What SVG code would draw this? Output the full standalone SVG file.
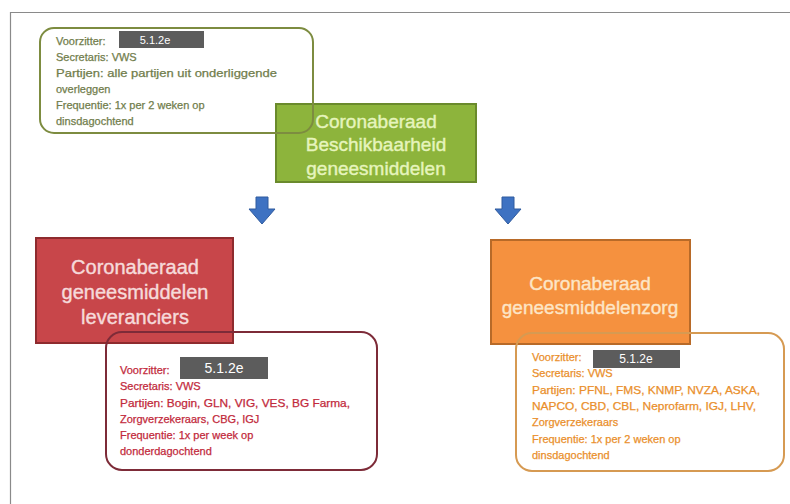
<svg xmlns="http://www.w3.org/2000/svg" width="790" height="504" viewBox="0 0 790 504">
<defs>
<style>
.t{font-family:"Liberation Sans",Arial,sans-serif;font-size:11px;stroke-width:0.25}
.title{font-family:"Liberation Sans",Arial,sans-serif;text-anchor:middle;stroke-width:0.4}
.red{fill:#5c5c5c}
.rt{font-family:"Liberation Sans",Arial,sans-serif;fill:#ffffff;text-anchor:middle}
</style>
<path id="arr" d="M-6,0 H6 V12 H13 L0,27 L-13,12 H-6 Z" fill="#3e72c2" stroke="#2f5a9e" stroke-width="1"/>
</defs>
<rect width="790" height="504" fill="#ffffff"/>
<path d="M10.5,504 V12.5 H790" fill="none" stroke="#8a8a8a" stroke-width="1.2"/>

<g id="green">
<rect x="276" y="104" width="200" height="78" fill="#8db43c" stroke="#6a8a2c" stroke-width="2"/>
<g class="title" fill="#e6f4bd" stroke="#e6f4bd" font-size="19">
<text x="376" y="128">Coronaberaad</text>
<text x="376" y="151">Beschikbaarheid</text>
<text x="376" y="175">geneesmiddelen</text>
</g>
</g>

<g id="top-info">
<rect x="40" y="28" width="273" height="105" rx="14" fill="none" stroke="#7d8c40" stroke-width="2"/>
<g class="t" fill="#717d4c" stroke="#717d4c">
<text x="56" y="45">Voorzitter:</text>
<text x="56" y="61">Secretaris: VWS</text>
<text x="56" y="77" textLength="221" lengthAdjust="spacingAndGlyphs">Partijen: alle partijen uit onderliggende</text>
<text x="56" y="93">overleggen</text>
<text x="56" y="109">Frequentie: 1x per 2 weken op</text>
<text x="56" y="125">dinsdagochtend</text>
</g>
<rect class="red" x="119" y="31" width="85" height="17"/>
<text class="rt" x="155" y="44" font-size="11">5.1.2e</text>
</g>

<g id="connectors">
<use href="#arr" x="262" y="197"/>
<use href="#arr" x="508" y="197"/>
</g>

<g id="red-title">
<rect x="36" y="238" width="197" height="105" fill="#c8464a" stroke="#8e2b2e" stroke-width="2"/>
<g class="title" fill="#f6dada" stroke="#f6dada" font-size="20">
<text x="135" y="274">Coronaberaad</text>
<text x="135" y="299">geneesmiddelen</text>
<text x="135" y="324">leveranciers</text>
</g>
</g>

<g id="red-info">
<rect x="106" y="332" width="271" height="138" rx="16" fill="none" stroke="#7d2b38" stroke-width="2"/>
<g class="t" fill="#c22a3c" stroke="#c22a3c">
<text x="120" y="374">Voorzitter:</text>
<text x="120" y="390">Secretaris: VWS</text>
<text x="120" y="407" textLength="230" lengthAdjust="spacingAndGlyphs">Partijen: Bogin, GLN, VIG, VES, BG Farma,</text>
<text x="120" y="423">Zorgverzekeraars, CBG, IGJ</text>
<text x="120" y="439">Frequentie: 1x per week op</text>
<text x="120" y="455">donderdagochtend</text>
</g>
<rect class="red" x="180" y="357" width="88" height="22"/>
<text class="rt" x="224" y="373" font-size="14">5.1.2e</text>
</g>

<g id="orange-title">
<rect x="491" y="240" width="199" height="104" fill="#f5913f" stroke="#b86a28" stroke-width="2"/>
<g class="title" fill="#fde5c6" stroke="#fde5c6" font-size="19">
<text x="590" y="290">Coronaberaad</text>
<text x="590" y="314">geneesmiddelenzorg</text>
</g>
</g>

<g id="orange-info">
<rect x="516" y="333" width="268" height="138" rx="16" fill="none" stroke="#d69a52" stroke-width="2"/>
<g class="t" fill="#ea8f2c" stroke="#ea8f2c">
<text x="532" y="361">Voorzitter:</text>
<text x="532" y="377">Secretaris: VWS</text>
<text x="532" y="394" textLength="228" lengthAdjust="spacingAndGlyphs">Partijen: PFNL, FMS, KNMP, NVZA, ASKA,</text>
<text x="532" y="410" textLength="224" lengthAdjust="spacingAndGlyphs">NAPCO, CBD, CBL, Neprofarm, IGJ, LHV,</text>
<text x="532" y="426">Zorgverzekeraars</text>
<text x="532" y="443">Frequentie: 1x per 2 weken op</text>
<text x="532" y="459">dinsdagochtend</text>
</g>
<rect class="red" x="593" y="350" width="87" height="18"/>
<text class="rt" x="636" y="363" font-size="12">5.1.2e</text>
</g>
</svg>
